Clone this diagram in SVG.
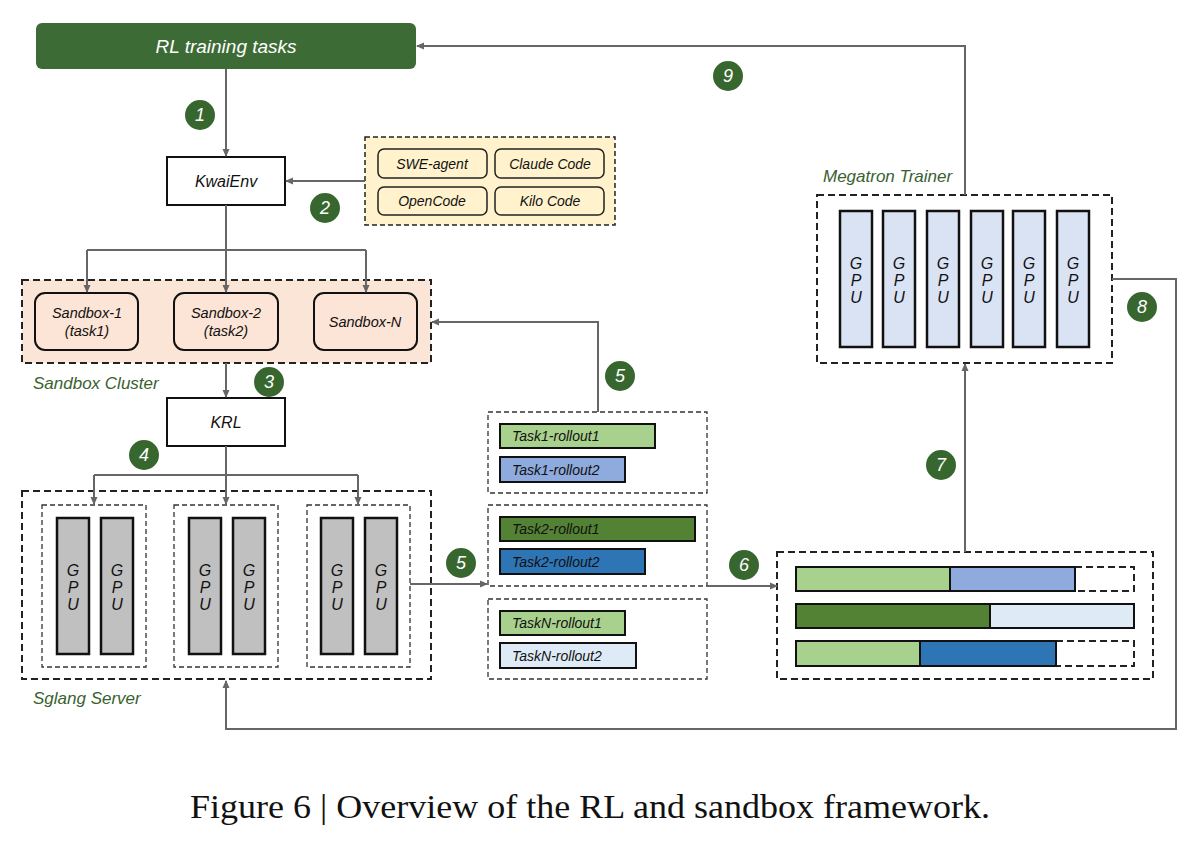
<svg xmlns="http://www.w3.org/2000/svg" width="1201" height="844" viewBox="0 0 1201 844">
<defs>
<marker id="ah" markerWidth="8" markerHeight="8" refX="7" refY="4" orient="auto" markerUnits="userSpaceOnUse">
<path d="M0,0.5 L8,4 L0,7.5 Z" fill="#666"/>
</marker>
<style>
.t{font-family:"Liberation Sans",Arial,sans-serif;font-style:italic;fill:#111;text-anchor:middle;dominant-baseline:central}
.ts{text-anchor:start}
.lbl{font-family:"Liberation Sans",Arial,sans-serif;font-style:italic;fill:#38622f;font-size:17px}
.conn{fill:none;stroke:#666;stroke-width:2}
.num circle{fill:#38662f}
.num text{font-family:"Liberation Sans",Arial,sans-serif;font-style:italic;fill:#fff;font-size:18px;text-anchor:middle;dominant-baseline:central}
.dash{fill:none;stroke:#222;stroke-width:2;stroke-dasharray:7,4}
.dashs{fill:none;stroke:#333;stroke-width:1.3;stroke-dasharray:5,3}
.box{fill:#fff;stroke:#111;stroke-width:2}
.sb{fill:#fce4d6;stroke:#111;stroke-width:2}
.ag{fill:#fff2cc;stroke:#222;stroke-width:1.5}
.gpu{fill:#c0c0c0;stroke:#111;stroke-width:2.5}
.mgpu{fill:#dae3f3;stroke:#111;stroke-width:2.5}
.bar{stroke:#111;stroke-width:2}
.g{font-size:16px}
</style>
</defs>
<rect width="1201" height="844" fill="#fff"/>

<g id="rl-tasks">
<rect x="36" y="23" width="380" height="46" rx="6" fill="#3d6b35"/>
<text class="t" x="226" y="46" style="fill:#fff;font-size:19px">RL training tasks</text>
</g>

<g id="kwaienv">
<rect class="box" x="167" y="157" width="118" height="48"/>
<text class="t" x="226" y="181" font-size="16">KwaiEnv</text>
</g>

<g id="agents">
<rect x="365" y="137" width="250" height="88" fill="#fff2cc"/>
<rect class="dash" x="365" y="137" width="250" height="88" style="stroke-width:1.5;stroke-dasharray:5,3"/>
<rect class="ag" x="378" y="149" width="109" height="29" rx="6"/>
<text class="t" x="432" y="163.5" font-size="14">SWE-agent</text>
<rect class="ag" x="495" y="149" width="109" height="29" rx="6"/>
<text class="t" x="550" y="163.5" font-size="14">Claude Code</text>
<rect class="ag" x="378" y="187" width="109" height="28" rx="6"/>
<text class="t" x="432" y="201" font-size="14">OpenCode</text>
<rect class="ag" x="495" y="187" width="109" height="28" rx="6"/>
<text class="t" x="550" y="201" font-size="14">Kilo Code</text>
</g>

<g id="sandbox-cluster">
<rect x="22" y="280" width="409" height="83" fill="#fbe5d6"/>
<rect class="dash" x="22" y="280" width="409" height="83"/>
<rect class="sb" x="35" y="293" width="103" height="57" rx="10"/>
<text class="t" x="87" y="313" font-size="14.5">Sandbox-1</text>
<text class="t" x="87" y="331" font-size="14.5">(task1)</text>
<rect class="sb" x="174" y="293" width="104" height="57" rx="10"/>
<text class="t" x="226" y="313" font-size="14.5">Sandbox-2</text>
<text class="t" x="226" y="331" font-size="14.5">(task2)</text>
<rect class="sb" x="314" y="293" width="103" height="57" rx="10"/>
<text class="t" x="365" y="322" font-size="14.5">Sandbox-N</text>
<text class="lbl" x="33" y="389">Sandbox Cluster</text>
</g>

<g id="krl">
<rect class="box" x="167" y="398" width="118" height="48"/>
<text class="t" x="226" y="422" font-size="16">KRL</text>
</g>

<g id="sglang-server">
<rect class="dash" x="22" y="491" width="409" height="188"/>
<rect class="dashs" x="42" y="505" width="104" height="162"/>
<rect class="dashs" x="174" y="505" width="104" height="162"/>
<rect class="dashs" x="307" y="505" width="103" height="162"/>
<rect class="gpu" x="57" y="518" width="32" height="136"/>
<rect class="gpu" x="101" y="518" width="32" height="136"/>
<rect class="gpu" x="189" y="518" width="32" height="136"/>
<rect class="gpu" x="233" y="518" width="32" height="136"/>
<rect class="gpu" x="321" y="518" width="32" height="136"/>
<rect class="gpu" x="365" y="518" width="32" height="136"/>
<g class="t g">
<text x="73" y="570">G</text><text x="73" y="587">P</text><text x="73" y="604">U</text>
<text x="117" y="570">G</text><text x="117" y="587">P</text><text x="117" y="604">U</text>
<text x="205" y="570">G</text><text x="205" y="587">P</text><text x="205" y="604">U</text>
<text x="249" y="570">G</text><text x="249" y="587">P</text><text x="249" y="604">U</text>
<text x="337" y="570">G</text><text x="337" y="587">P</text><text x="337" y="604">U</text>
<text x="381" y="570">G</text><text x="381" y="587">P</text><text x="381" y="604">U</text>
</g>
<text class="lbl" x="33" y="704">Sglang Server</text>
</g>

<g id="rollouts">
<rect class="dashs" x="488" y="412" width="219" height="81"/>
<rect class="dashs" x="488" y="505" width="219" height="81"/>
<rect class="dashs" x="488" y="599" width="219" height="80"/>
<rect class="bar" x="500" y="424" width="155" height="24" fill="#a9d18e"/>
<text class="t ts" x="512" y="436" font-size="14">Task1-rollout1</text>
<rect class="bar" x="500" y="457" width="125" height="25" fill="#8faadc"/>
<text class="t ts" x="512" y="469.5" font-size="14">Task1-rollout2</text>
<rect class="bar" x="500" y="517" width="195" height="24" fill="#548235"/>
<text class="t ts" x="512" y="529" font-size="14">Task2-rollout1</text>
<rect class="bar" x="500" y="549" width="145" height="25" fill="#2e75b6"/>
<text class="t ts" x="512" y="561.5" font-size="14">Task2-rollout2</text>
<rect class="bar" x="500" y="611" width="125" height="24" fill="#a9d18e"/>
<text class="t ts" x="512" y="623" font-size="14">TaskN-rollout1</text>
<rect class="bar" x="500" y="643" width="136" height="25" fill="#deebf7"/>
<text class="t ts" x="512" y="655.5" font-size="14">TaskN-rollout2</text>
</g>

<g id="packed-batch">
<rect class="dash" x="777" y="552" width="376" height="127"/>
<rect class="dash" x="1075" y="567" width="59" height="24"/>
<rect class="dash" x="1056" y="641" width="78" height="25"/>
<rect class="bar" x="796" y="567" width="154" height="24" fill="#a9d18e"/>
<rect class="bar" x="950" y="567" width="125" height="24" fill="#8faadc"/>
<rect class="bar" x="796" y="604" width="194" height="24" fill="#548235"/>
<rect class="bar" x="990" y="604" width="144" height="24" fill="#deebf7"/>
<rect class="bar" x="796" y="641" width="124" height="25" fill="#a9d18e"/>
<rect class="bar" x="920" y="641" width="136" height="25" fill="#2e75b6"/>
</g>

<g id="megatron-trainer">
<rect class="dash" x="817" y="195" width="295" height="168"/>
<rect class="mgpu" x="840" y="211" width="32" height="136"/>
<rect class="mgpu" x="883" y="211" width="32" height="136"/>
<rect class="mgpu" x="927" y="211" width="32" height="136"/>
<rect class="mgpu" x="971" y="211" width="32" height="136"/>
<rect class="mgpu" x="1013" y="211" width="32" height="136"/>
<rect class="mgpu" x="1057" y="211" width="32" height="136"/>
<g class="t g">
<text x="856" y="263">G</text><text x="856" y="280">P</text><text x="856" y="297">U</text>
<text x="899" y="263">G</text><text x="899" y="280">P</text><text x="899" y="297">U</text>
<text x="943" y="263">G</text><text x="943" y="280">P</text><text x="943" y="297">U</text>
<text x="987" y="263">G</text><text x="987" y="280">P</text><text x="987" y="297">U</text>
<text x="1029" y="263">G</text><text x="1029" y="280">P</text><text x="1029" y="297">U</text>
<text x="1073" y="263">G</text><text x="1073" y="280">P</text><text x="1073" y="297">U</text>
</g>
<text class="lbl" x="823" y="182">Megatron Trainer</text>
</g>

<g id="connectors">
<path class="conn" d="M226,69 V156" marker-end="url(#ah)"/>
<path class="conn" d="M365,181 H286" marker-end="url(#ah)"/>
<path class="conn" d="M226,205 V292" marker-end="url(#ah)"/>
<path class="conn" d="M87,250 H366"/>
<path class="conn" d="M87,250 V292" marker-end="url(#ah)"/>
<path class="conn" d="M366,250 V292" marker-end="url(#ah)"/>
<path class="conn" d="M226,363 V397" marker-end="url(#ah)"/>
<path class="conn" d="M226,446 V504" marker-end="url(#ah)"/>
<path class="conn" d="M94,475 H358"/>
<path class="conn" d="M94,475 V504" marker-end="url(#ah)"/>
<path class="conn" d="M358,475 V504" marker-end="url(#ah)"/>
<path class="conn" d="M410,584 H487" marker-end="url(#ah)"/>
<path class="conn" d="M598,412 V322 H432" marker-end="url(#ah)"/>
<path class="conn" d="M707,586 H777" marker-end="url(#ah)"/>
<path class="conn" d="M965,552 V364" marker-end="url(#ah)"/>
<path class="conn" d="M965,195 V46 H417" marker-end="url(#ah)"/>
<path class="conn" d="M1112,279 H1176 V729 H226 V681" marker-end="url(#ah)"/>
</g>

<g id="step-numbers" class="num">
<circle cx="200" cy="115" r="15"/><text x="200" y="115">1</text>
<circle cx="325" cy="208" r="15"/><text x="325" y="208">2</text>
<circle cx="269" cy="382" r="15"/><text x="269" y="382">3</text>
<circle cx="144" cy="455" r="15"/><text x="144" y="455">4</text>
<circle cx="620" cy="376" r="15"/><text x="620" y="376">5</text>
<circle cx="461" cy="563" r="15"/><text x="461" y="563">5</text>
<circle cx="744" cy="565" r="15"/><text x="744" y="565">6</text>
<circle cx="941" cy="465" r="15"/><text x="941" y="465">7</text>
<circle cx="1142" cy="307" r="15"/><text x="1142" y="307">8</text>
<circle cx="728" cy="76" r="15"/><text x="728" y="76">9</text>
</g>

<text x="590" y="818" font-family="'Liberation Serif','Times New Roman',serif" font-size="34" fill="#111" text-anchor="middle" textLength="800" lengthAdjust="spacingAndGlyphs">Figure 6 | Overview of the RL and sandbox framework.</text>
</svg>
